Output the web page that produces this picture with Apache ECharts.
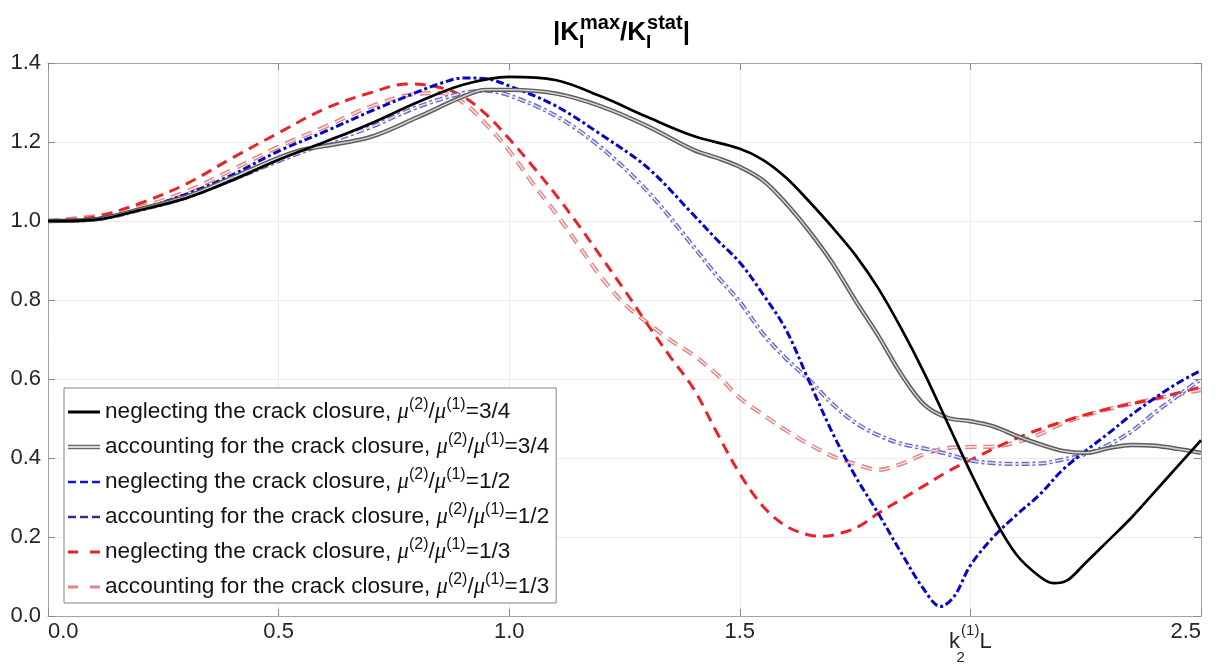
<!DOCTYPE html>
<html><head><meta charset="utf-8">
<script src="https://cdn.jsdelivr.net/npm/echarts/dist/echarts.min.js"></script>
<style>html,body{margin:0;padding:0;background:#fff}#c{width:1226px;height:668px}</style>
</head><body><div id="c"></div>
<script>
// ---- data (k2(1)L , |KImax/KIstat|) ----
const xTicks = [0, 0.5, 1.0, 1.5, 2.0, 2.5];
const yTicks = [0, 0.2, 0.4, 0.6, 0.8, 1.0, 1.2, 1.4];
const xNameTick = 2.0; // tick replaced by axis name

const neglect34 = [[0,1.0],[0.1,1.003],[0.2,1.028],[0.3,1.058],[0.4,1.103],[0.5,1.155],[0.6,1.2],[0.7,1.247],[0.8,1.3],[0.9,1.345],[1.0,1.365],[1.1,1.357],[1.2,1.315],[1.3,1.263],[1.4,1.215],[1.5,1.183],[1.55,1.155],[1.6,1.11],[1.65,1.05],[1.7,0.985],[1.75,0.915],[1.8,0.83],[1.85,0.728],[1.9,0.615],[1.95,0.49],[2.0,0.365],[2.05,0.25],[2.1,0.155],[2.15,0.1],[2.18,0.083],[2.21,0.09],[2.25,0.135],[2.3,0.192],[2.35,0.25],[2.4,0.315],[2.45,0.38],[2.5,0.445]];
const account34 = [[0,1.0],[0.1,1.004],[0.2,1.03],[0.3,1.062],[0.4,1.11],[0.5,1.16],[0.55,1.18],[0.6,1.19],[0.7,1.213],[0.8,1.262],[0.9,1.315],[0.95,1.332],[1.0,1.332],[1.1,1.323],[1.2,1.29],[1.3,1.24],[1.4,1.18],[1.45,1.16],[1.5,1.137],[1.55,1.103],[1.6,1.045],[1.65,0.975],[1.7,0.895],[1.75,0.8],[1.8,0.71],[1.85,0.612],[1.9,0.535],[1.95,0.502],[2.0,0.493],[2.05,0.48],[2.1,0.456],[2.15,0.435],[2.2,0.418],[2.25,0.413],[2.3,0.425],[2.35,0.433],[2.4,0.431],[2.45,0.423],[2.5,0.413]];
const neglect12 = [[0,1.0],[0.1,1.005],[0.2,1.03],[0.3,1.068],[0.4,1.117],[0.5,1.177],[0.6,1.226],[0.7,1.278],[0.8,1.326],[0.85,1.348],[0.9,1.362],[0.95,1.36],[1.0,1.342],[1.1,1.292],[1.2,1.218],[1.3,1.135],[1.4,1.015],[1.45,0.953],[1.5,0.895],[1.55,0.815],[1.6,0.725],[1.65,0.595],[1.7,0.466],[1.75,0.355],[1.8,0.26],[1.85,0.16],[1.9,0.066],[1.935,0.024],[1.965,0.05],[2.0,0.128],[2.05,0.2],[2.1,0.256],[2.15,0.307],[2.2,0.37],[2.25,0.418],[2.3,0.463],[2.35,0.51],[2.4,0.552],[2.45,0.59],[2.5,0.622]];
const account12 = [[0,1.0],[0.1,1.004],[0.2,1.028],[0.3,1.06],[0.4,1.105],[0.5,1.152],[0.6,1.196],[0.7,1.238],[0.8,1.288],[0.9,1.324],[0.95,1.33],[1.0,1.318],[1.1,1.267],[1.2,1.185],[1.3,1.075],[1.4,0.935],[1.45,0.862],[1.5,0.795],[1.55,0.715],[1.6,0.652],[1.65,0.598],[1.7,0.538],[1.75,0.49],[1.8,0.458],[1.85,0.436],[1.9,0.424],[1.95,0.41],[2.0,0.394],[2.05,0.387],[2.1,0.385],[2.15,0.386],[2.2,0.396],[2.25,0.41],[2.3,0.434],[2.35,0.468],[2.4,0.515],[2.45,0.558],[2.5,0.6]];
const neglect13 = [[0,1.0],[0.1,1.01],[0.2,1.045],[0.3,1.094],[0.4,1.16],[0.5,1.223],[0.6,1.284],[0.7,1.325],[0.78,1.347],[0.85,1.338],[0.9,1.315],[0.95,1.27],[1.0,1.208],[1.05,1.14],[1.1,1.068],[1.15,0.99],[1.2,0.908],[1.25,0.825],[1.3,0.738],[1.35,0.655],[1.4,0.575],[1.45,0.465],[1.5,0.36],[1.55,0.278],[1.6,0.228],[1.65,0.205],[1.68,0.202],[1.72,0.21],[1.76,0.228],[1.8,0.26],[1.85,0.295],[1.9,0.33],[1.95,0.365],[2.0,0.395],[2.1,0.45],[2.2,0.492],[2.3,0.525],[2.4,0.55],[2.5,0.58]];
const account13 = [[0,1.0],[0.1,1.012],[0.2,1.035],[0.3,1.075],[0.4,1.13],[0.5,1.188],[0.6,1.238],[0.7,1.29],[0.8,1.322],[0.85,1.324],[0.9,1.3],[0.95,1.245],[1.0,1.178],[1.05,1.097],[1.1,1.021],[1.15,0.939],[1.2,0.857],[1.25,0.79],[1.3,0.742],[1.35,0.698],[1.4,0.66],[1.45,0.612],[1.5,0.552],[1.55,0.51],[1.6,0.47],[1.65,0.435],[1.7,0.405],[1.75,0.385],[1.8,0.37],[1.85,0.385],[1.9,0.41],[1.95,0.425],[2.0,0.428],[2.05,0.429],[2.1,0.44],[2.15,0.46],[2.2,0.488],[2.3,0.524],[2.4,0.55],[2.5,0.572]];

const legendNames  = ['nk34','ak34','nk12','ak12','nk13','ak13'];
const legendTexts  = ['neglecting the crack closure, ','accounting for the crack closure, ','neglecting the crack closure, ','accounting for the crack closure, ','neglecting the crack closure, ','accounting for the crack closure, '];
const legendRatios = ['3/4','3/4','1/2','1/2','1/3','1/3'];

// ---- styling ----
const FF = 'Liberation Sans, Arial, sans-serif';
const DASHDOT = [8,3,3,3];
const DASH = [11,7];
function ln(name, data, color, width, type, z, silent) {
  return {name, type:'line', data, smooth:0.35, symbol:'none', showSymbol:false, z,
    silent: !!silent, legendHoverLink: !silent, animation:false,
    lineStyle:{color, width, type, cap:'butt', join:'round'}, itemStyle:{color}, emphasis:{disabled:true}};
}
const series = [
  ln('ak13', account13, '#e08686', 4.2, DASH, 2),
  ln('_ak13', account13, '#fbe9e9', 1.4, DASH, 3, true),
  ln('nk13', neglect13, '#e8242a', 3, DASH, 4),
  ln('ak12', account12, '#6b6bc6', 4.2, DASHDOT, 5),
  ln('_ak12', account12, '#ececf8', 1.4, DASHDOT, 6, true),
  ln('nk12', neglect12, '#0606c8', 3, DASHDOT, 7),
  ln('ak34', account34, '#5c5c5c', 4.4, 'solid', 8),
  ln('_ak34', account34, '#d4d4d4', 1.5, 'solid', 9, true),
  ln('nk34', neglect34, '#000000', 2.7, 'solid', 10)
];

const legendIcons = [
  'path://M0,0H32V3H0Z',
  'path://M0,0H32V1.5H0Z M0,3H32V4.5H0Z',
  'path://M0,0H8V2.5H0Z M12,0H20V2.5H12Z M24,0H32V2.5H24Z',
  'path://M0,0H8V2.5H0Z M12,0H20V2.5H12Z M24,0H32V2.5H24Z',
  'path://M0,0H10V3H0Z M22,0H32V3H22Z',
  'path://M0,0H10V3H0Z M22,0H32V3H22Z'
];
const legendColors = ['#000000','#6a6a6a','#1414d0','#30308e','#e02424','#e08484'];

const axisCommon = {
  type:'value',
  axisLine:{show:true, onZero:false, lineStyle:{color:'#a3a3a3', width:1}},
  axisTick:{show:true, inside:true, length:7, lineStyle:{color:'#8a8a8a'}},
  minorTick:{show:false}
};

const LFS = 22.6;
const option = {
  animation:false,
  backgroundColor:'#ffffff',
  title:{
    text:'{b||K}{sb|I}{sp|max}{b|/K}{sb|I}{sp|stat}{b||}',
    left:553, top:13, padding:0,
    textStyle:{fontFamily:FF, fontWeight:'bold', fontSize:26, lineHeight:40, color:'#000',
      rich:{
        b:{fontFamily:FF, fontWeight:'bold', fontSize:26, lineHeight:40, color:'#000'},
        sp:{fontFamily:FF, fontWeight:'bold', fontSize:20, lineHeight:40, color:'#000', padding:[0,0,20,0]},
        sb:{fontFamily:FF, fontWeight:'bold', fontSize:19, lineHeight:40, color:'#000', width:1, padding:[20,0,0,0]}
      }}
  },
  grid:{left:48, right:25, top:63, bottom:52, containLabel:false},
  legend:{
    orient:'vertical', left:64, top:388,
    padding:[8,7,0,4], itemGap:3, itemWidth:32, itemHeight:14,
    backgroundColor:'#ffffff', borderColor:'#858585', borderWidth:1, borderRadius:0,
    symbolKeepAspect:true, selectedMode:false,
    itemStyle:{borderWidth:0},
    data: legendNames.map((n,i)=>({name:n, icon:legendIcons[i], itemStyle:{color:legendColors[i], borderWidth:0}})),
    formatter: function(name){
      const i = legendNames.indexOf(name);
      return '{t|' + legendTexts[i] + '}{mu|\u03bc}{sp|(2)}{t|/}{mu|\u03bc}{sp|(1)}{t|=' + legendRatios[i] + '}';
    },
    textStyle:{fontFamily:FF, fontSize:LFS, lineHeight:32, color:'#141414',
      rich:{
        t:{fontFamily:FF, fontSize:LFS, lineHeight:32, color:'#141414'},
        mu:{fontFamily:'Liberation Serif, Times New Roman, serif', fontStyle:'italic', fontSize:LFS, lineHeight:32, color:'#141414'},
        sp:{fontFamily:FF, fontSize:16, lineHeight:32, color:'#141414', padding:[0,0,14,0]}
      }}
  },
  xAxis:[
    Object.assign({}, axisCommon, {
      position:'bottom', min:xTicks[0], max:xTicks[xTicks.length-1], interval:xTicks[1]-xTicks[0],
      splitLine:{show:true, lineStyle:{color:'#ececec', width:1}},
      axisLabel:{show:true, margin:3, fontFamily:FF, fontSize:22, lineHeight:26, color:'#262626',
        alignMinLabel:'left', alignMaxLabel:'right',
        formatter:function(v){ return Math.abs(v-xNameTick)<1e-9 ? '{k|k}{sb|2}{sp|(1)}{k|L}' : v.toFixed(1); },
        rich:{
          k:{fontFamily:FF, fontSize:22, lineHeight:26, color:'#262626', padding:[20,0,0,0]},
          sb:{fontFamily:FF, fontSize:15, lineHeight:26, color:'#262626', width:1, padding:[52,0,0,0]},
          sp:{fontFamily:FF, fontSize:15, lineHeight:26, color:'#262626', padding:[0,0,2,0]}
        }}
    }),
    Object.assign({}, axisCommon, {
      position:'top', min:xTicks[0], max:xTicks[xTicks.length-1], interval:xTicks[1]-xTicks[0],
      splitLine:{show:false}, axisLabel:{show:false}
    })
  ],
  yAxis:[
    Object.assign({}, axisCommon, {
      position:'left', min:yTicks[0], max:yTicks[yTicks.length-1], interval:yTicks[1]-yTicks[0],
      splitLine:{show:true, lineStyle:{color:'#ececec', width:1}},
      axisLabel:{show:true, margin:7, fontFamily:FF, fontSize:22, color:'#262626',
        formatter:function(v){ return v.toFixed(1); }}
    }),
    Object.assign({}, axisCommon, {
      position:'right', min:yTicks[0], max:yTicks[yTicks.length-1], interval:yTicks[1]-yTicks[0],
      splitLine:{show:false}, axisLabel:{show:false}
    })
  ],
  series: series
};
const chart = echarts.init(document.getElementById('c'), null, {renderer:'canvas'});
chart.setOption(option);
</script></body></html>
